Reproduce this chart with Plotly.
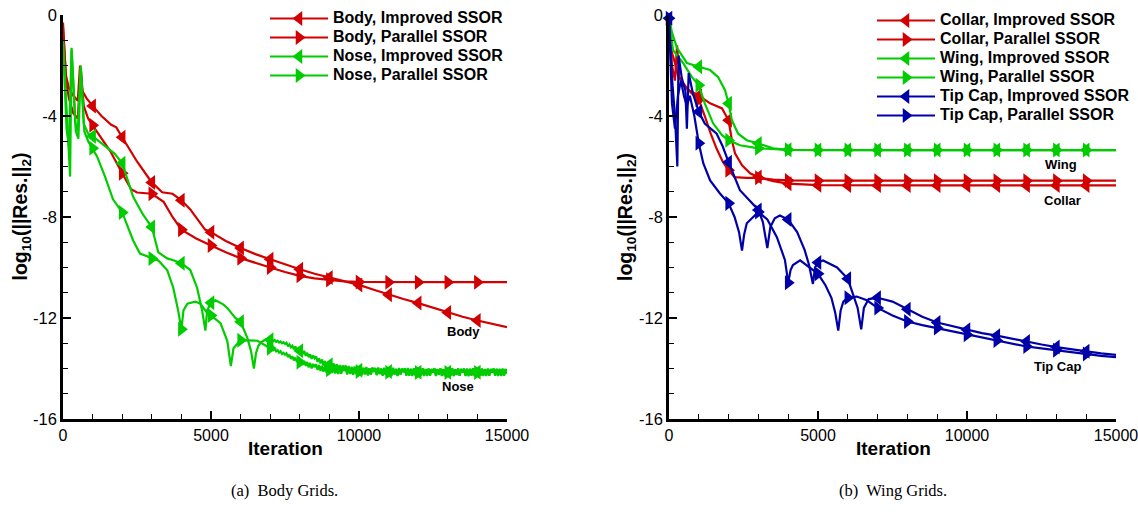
import plotly.graph_objects as go

W, H = 1138, 514

# ---------------- Data ----------------
# Left panel: Body grids
body_imp_x = [0, 100, 200, 350, 500, 575, 650, 800, 1000, 1300, 1630, 1800, 2000, 2500, 3000,
              3350, 3700, 4000, 4300, 4530, 4800, 5000, 5500, 6000, 6500, 7000, 7500, 8000,
              8500, 9000, 9500, 10000, 10500, 11000, 11500, 12000, 12500, 13000, 13500,
              14000, 14500, 15000]
body_imp_y = [-0.5, -2.4, -2.9, -3.2, -3.4, -2.0, -3.0, -3.3, -3.6, -4.0, -4.35, -4.45, -4.84,
              -5.8, -6.63, -7.02, -7.08, -7.34, -7.7, -8.06, -8.5, -8.6, -8.95, -9.23, -9.47,
              -9.67, -9.88, -10.07, -10.25, -10.4, -10.55, -10.69, -10.88, -11.08, -11.25,
              -11.41, -11.6, -11.78, -11.95, -12.1, -12.23, -12.36]

body_par_x = [0, 100, 200, 350, 500, 600, 700, 850, 1000, 1300, 1600, 2000, 2300, 2500, 3000,
              3400, 3700, 4000, 4500, 5000, 5500, 6000, 6500, 7000, 7500, 8000, 8500, 9000,
              9500, 10000, 11000, 12000, 13000, 14000, 15000]
body_par_y = [-0.3, -2.6, -3.3, -3.9, -4.1, -2.1, -3.6, -4.1, -4.37, -4.9, -5.4, -6.27, -6.9,
              -7.03, -7.08, -7.4, -8.0, -8.5, -8.85, -9.13, -9.4, -9.63, -9.83, -10.0, -10.18,
              -10.33, -10.43, -10.49, -10.55, -10.57, -10.58, -10.58, -10.58, -10.58, -10.58]

# Nose: smooth part up to 7000, then the noisy tail sampled every 50 iterations
nose_imp_x = [0, 100, 240, 290, 420, 500, 600, 700, 850, 1000, 1180, 1500, 1750, 2000, 2370,
              2700, 3000, 3220, 3520, 3750, 4000, 4300, 4530, 4700, 4810, 4870, 5000, 5150,
              5400, 5550, 5820, 6000, 6230, 6350, 6450, 6520, 6600, 6700, 6850, 7000] \
    + list(range(7050, 15001, 50))
nose_imp_y = [-1.0, -3.5, -6.4, -1.3, -4.3, -4.6, -2.0, -4.3, -4.7, -4.8, -4.96, -5.25, -5.5,
              -5.87, -7.2, -7.9, -8.4, -9.4, -9.64, -9.72, -9.83, -10.1, -10.8, -11.7, -12.5,
              -11.7, -11.4, -11.3, -11.45, -11.6, -12.0, -12.15, -12.8, -13.3, -14.0, -13.4,
              -13.1, -12.95, -12.85, -12.86,
              -12.85, -12.91, -12.87, -12.95, -12.9, -12.97, -12.93, -13.0, -12.96, -13.03,
              -12.98, -13.12, -13.04, -13.16, -13.1, -13.24, -13.13, -13.27, -13.2, -13.3,
              -13.25, -13.43, -13.3, -13.5, -13.38, -13.55, -13.44, -13.62, -13.48, -13.6,
              -13.52, -13.74, -13.6, -13.8, -13.64, -13.88, -13.7, -13.93, -13.75, -13.85,
              -13.74, -13.98, -13.8, -14.02, -13.83, -14.06, -13.86, -14.1, -13.88, -14.0,
              -13.88, -14.14, -13.9, -14.18, -13.93, -14.2, -13.92, -14.17, -13.95, -14.07,
              -13.95, -14.22, -13.97, -14.19, -13.94, -14.24, -13.99, -14.2, -13.96, -14.1,
              -13.98, -14.25, -13.96, -14.21, -14.0, -14.26, -13.97, -14.23, -13.99, -14.12,
              -13.99, -14.27, -13.97, -14.22, -14.01, -14.28, -13.98, -14.24, -14.0, -14.13,
              -14.0, -14.26, -13.98, -14.29, -14.02, -14.23, -13.99, -14.27, -14.01, -14.15,
              -14.01, -14.28, -13.99, -14.25, -14.03, -14.3, -14.0, -14.26, -14.02, -14.15,
              -13.99, -14.29, -14.02, -14.24, -14.0, -14.3, -14.03, -14.27, -14.01, -14.15,
              -14.02, -14.28, -13.99, -14.3, -14.03, -14.25, -14.0, -14.29, -14.02, -14.15,
              -14.0, -14.3, -14.03, -14.26, -14.01, -14.29, -13.99, -14.27, -14.02, -14.15,
              -14.03, -14.28, -14.0, -14.3, -14.02, -14.25, -14.01, -14.29, -14.03, -14.15,
              -14.0, -14.29, -14.02, -14.26, -14.01, -14.3, -14.03, -14.27, -14.02, -14.18]

nose_par_x = [0, 120, 200, 290, 430, 520, 600, 720, 850, 1000, 1150, 1420, 1690, 2000, 2370,
              2600, 3000, 3220, 3520, 3725, 3890, 4000, 4070, 4200, 4470, 4640, 4870, 5000,
              5320, 5550, 5670, 5760, 6000, 6570, 7000] \
    + list(range(7050, 15001, 50))
nose_par_y = [-1.1, -4.5, -5.2, -1.4, -4.6, -4.9, -2.1, -4.6, -5.0, -5.28, -5.6, -6.4, -7.3,
              -7.82, -8.93, -9.45, -9.64, -9.72, -10.1, -10.8, -11.7, -12.45, -11.7, -11.43,
              -11.35, -11.43, -11.8, -11.9, -12.2, -12.9, -13.9, -13.2, -12.88, -12.9, -13.2,
              -13.19, -13.27, -13.22, -13.32, -13.27, -13.37, -13.32, -13.43, -13.38, -13.45,
              -13.4, -13.55, -13.45, -13.62, -13.52, -13.68, -13.57, -13.74, -13.64, -13.75,
              -13.66, -13.86, -13.7, -13.9, -13.74, -13.96, -13.78, -14.0, -13.82, -13.95,
              -13.83, -14.06, -13.86, -14.1, -13.89, -14.13, -13.9, -14.16, -13.92, -14.05,
              -13.93, -14.18, -13.94, -14.2, -13.96, -14.22, -13.95, -14.21, -13.97, -14.1,
              -13.97, -14.24, -13.98, -14.22, -14.0, -14.25, -13.97, -14.23, -13.99, -14.12,
              -14.0, -14.26, -13.98, -14.24, -14.01, -14.28, -13.99, -14.25, -14.02, -14.14,
              -13.99, -14.27, -14.01, -14.23, -14.0, -14.29, -14.02, -14.26, -14.0, -14.15,
              -14.02, -14.28, -13.99, -14.25, -14.03, -14.3, -14.01, -14.24, -14.02, -14.15,
              -14.0, -14.29, -14.02, -14.26, -14.01, -14.3, -14.03, -14.27, -14.0, -14.16,
              -14.03, -14.27, -14.0, -14.3, -14.02, -14.26, -14.01, -14.29, -14.03, -14.16,
              -14.01, -14.3, -14.03, -14.25, -14.0, -14.28, -14.02, -14.31, -14.01, -14.16,
              -14.02, -14.27, -14.01, -14.3, -14.03, -14.26, -14.0, -14.29, -14.02, -14.16,
              -14.03, -14.28, -14.0, -14.31, -14.02, -14.25, -14.01, -14.3, -14.03, -14.16,
              -14.0, -14.29, -14.02, -14.26, -14.03, -14.3, -14.01, -14.28, -14.02, -14.16,
              -14.02, -14.27, -14.01, -14.3, -14.03, -14.28, -14.0, -14.29, -14.02, -14.2]

# Right panel: Wing grids
collar_imp_x = [0, 100, 200, 270, 350, 500, 700, 1000, 1380, 1780, 2000, 2110, 2215, 2450, 2720,
                3000, 3500, 4000, 5000, 6000, 7000, 8000, 9000, 10000, 11000, 12000, 13000,
                14000, 15000]
collar_imp_y = [-0.1, -2.0, -2.6, -1.2, -2.5, -2.8, -3.0, -3.2, -3.5, -3.7, -4.17, -4.96, -5.48,
                -5.95, -6.27, -6.42, -6.58, -6.68, -6.74, -6.75, -6.75, -6.75, -6.75, -6.75,
                -6.75, -6.75, -6.75, -6.75, -6.75]

collar_par_x = [0, 100, 200, 300, 450, 600, 800, 1000, 1200, 1400, 1600, 1800, 2000, 2200, 2600,
                3000, 3500, 4000, 5000, 6000, 7000, 8000, 9000, 10000, 11000, 12000, 13000,
                14000, 15000]
collar_par_y = [-0.1, -1.5, -1.9, -2.4, -2.65, -2.9, -3.15, -3.35, -4.0, -4.7, -5.3, -5.8, -6.15,
                -6.42, -6.45, -6.45, -6.52, -6.55, -6.56, -6.56, -6.56, -6.56, -6.56, -6.56,
                -6.56, -6.56, -6.56, -6.56, -6.56]

wing_imp_x = [0, 100, 270, 600, 1000, 1380, 1650, 1880, 2000, 2110, 2320, 2610, 3000, 3490, 4000,
              5000, 6000, 7000, 8000, 9000, 10000, 11000, 12000, 13000, 14000, 15000]
wing_imp_y = [-0.07, -0.7, -1.31, -1.9, -2.05, -2.18, -2.46, -2.98, -3.5, -4.17, -4.7, -4.96,
              -5.09, -5.28, -5.34, -5.35, -5.35, -5.35, -5.35, -5.35, -5.35, -5.35, -5.35, -5.35,
              -5.35, -5.35]

wing_par_x = [0, 135, 470, 770, 1000, 1200, 1480, 1780, 2000, 2380, 3000, 4000, 5000, 6000, 7000,
              8000, 9000, 10000, 11000, 12000, 13000, 14000, 15000]
wing_par_y = [-0.07, -1.39, -1.9, -2.46, -2.78, -3.5, -4.29, -4.76, -4.96, -5.16, -5.28, -5.34,
              -5.35, -5.35, -5.35, -5.35, -5.35, -5.35, -5.35, -5.35, -5.35, -5.35, -5.35]

tip_imp_x = [0, 100, 200, 280, 320, 430, 550, 600, 660, 800, 1000, 1200, 1400, 1600, 1800, 2000,
             2380, 2700, 3000, 3150, 3300, 3400, 3550, 3720, 4000, 4300, 4550, 4700, 4830, 4900,
             5000, 5170, 5400, 5640, 6000, 6180, 6330, 6450, 6540, 6700, 7000, 7500, 8000, 8500,
             9000, 9500, 10000, 10500, 11000, 11500, 12000, 12500, 13000, 13500, 14000, 14500,
             15000]
tip_imp_y = [-0.13, -2.5, -4.0, -6.0, -1.6, -2.5, -3.0, -4.5, -2.3, -3.1, -3.83, -4.3, -4.5, -4.7,
             -5.2, -5.83, -6.94, -7.35, -7.72, -8.2, -9.23, -8.4, -8.05, -7.94, -8.1, -8.6, -9.3,
             -9.9, -10.65, -10.0, -9.8, -9.72, -9.85, -10.0, -10.45, -11.05, -11.6, -12.45,
             -11.6, -11.25, -11.2, -11.35, -11.65, -11.95, -12.18, -12.33, -12.47, -12.6, -12.7,
             -12.82, -12.93, -13.05, -13.15, -13.24, -13.32, -13.4, -13.46]

tip_par_x = [0, 100, 200, 300, 400, 500, 600, 700, 850, 1000, 1150, 1380, 1710, 2000, 2200, 2350,
             2450, 2520, 2610, 2820, 3000, 3300, 3620, 3890, 4000, 4080, 4160, 4400, 4730, 5000,
             5250, 5450, 5580, 5680, 5760, 5850, 6000, 6300, 6640, 7000, 7500, 8000, 8500, 9000,
             9500, 10000, 10500, 11000, 11500, 12000, 12500, 13000, 13500, 14000, 14500, 15000]
tip_par_y = [-0.13, -3.5, -4.5, -3.2, -2.6, -3.2, -3.6, -3.2, -4.0, -5.08, -5.87, -6.55, -7.07,
             -7.46, -8.0, -8.6, -9.33, -8.7, -8.25, -8.0, -7.8, -8.1, -8.8, -9.7, -10.6, -10.1,
             -9.9, -9.72, -10.0, -10.25, -10.7, -11.2, -11.8, -12.5, -11.7, -11.35, -11.2,
             -11.15, -11.3, -11.6, -11.9, -12.14, -12.28, -12.4, -12.53, -12.66, -12.78, -12.89,
             -13.0, -13.13, -13.2, -13.28, -13.36, -13.43, -13.5, -13.55]

# Axis ticks
x_tick_vals = [0, 5000, 10000, 15000]
x_tick_text = ["0", "5000", "10000", "15000"]
y_tick_vals = [-16, -12, -8, -4, 0]
y_tick_text = ["-16", "-12", "-8", "-4", "0"]

# Curve labels
left_labels = ["Body", "Nose"]
left_label_x = [13540, 13340]
left_label_y = [-12.55, -14.72]
right_labels = ["Wing", "Collar", "Tip Cap"]
right_label_x = [13170, 13190, 13020]
right_label_y = [-5.94, -7.35, -13.92]

captions = ["(a)  Body Grids.", "(b)  Wing Grids."]
x_title = "Iteration"
y_title = "log<sub>10</sub>(||Res.||<sub>2</sub>)"

# ---------------- Styling ----------------
RED = "#d20000"
GREEN = "#00cc00"
BLUE = "#0000a8"
SANS = "Liberation Sans, Arial, Helvetica, sans-serif"
NARROW = "Liberation Sans Narrow, Arial Narrow, Liberation Sans, sans-serif"
SERIF = "Liberation Serif, Times New Roman, serif"
MSIZE = 13
LW = 2.2


def marker_idx(xs, include_zero=False):
    return [i for i, x in enumerate(xs)
            if (x % 1000 == 0) and (1000 <= x <= 14000 or (include_zero and x == 0))]


def legend_name(s):
    return '<span style="font-size:16px">%s</span>' % s


fig = go.Figure()

series_left = [
    ("Body, Improved SSOR", body_imp_x, body_imp_y, RED, "triangle-left"),
    ("Body, Parallel SSOR", body_par_x, body_par_y, RED, "triangle-right"),
    ("Nose, Improved SSOR", nose_imp_x, nose_imp_y, GREEN, "triangle-left"),
    ("Nose, Parallel SSOR", nose_par_x, nose_par_y, GREEN, "triangle-right"),
]
series_right = [
    ("Collar, Improved SSOR", collar_imp_x, collar_imp_y, RED, "triangle-left", False),
    ("Collar, Parallel SSOR", collar_par_x, collar_par_y, RED, "triangle-right", False),
    ("Wing, Improved SSOR", wing_imp_x, wing_imp_y, GREEN, "triangle-left", False),
    ("Wing, Parallel SSOR", wing_par_x, wing_par_y, GREEN, "triangle-right", False),
    ("Tip Cap, Improved SSOR", tip_imp_x, tip_imp_y, BLUE, "triangle-left", True),
    ("Tip Cap, Parallel SSOR", tip_par_x, tip_par_y, BLUE, "triangle-right", True),
]

for name, xs, ys, col, sym in series_left:
    fig.add_trace(go.Scatter(
        x=xs, y=ys, name=legend_name(name), mode="lines+markers", xaxis="x", yaxis="y",
        legend="legend",
        line=dict(color=col, width=LW),
        marker=dict(symbol=sym, size=MSIZE, color=col),
        selectedpoints=marker_idx(xs),
        selected=dict(marker=dict(opacity=1)),
        unselected=dict(marker=dict(opacity=0)),
    ))

for name, xs, ys, col, sym, z in series_right:
    fig.add_trace(go.Scatter(
        x=xs, y=ys, name=legend_name(name), mode="lines+markers", xaxis="x2", yaxis="y2",
        legend="legend2", cliponaxis=False,
        line=dict(color=col, width=LW),
        marker=dict(symbol=sym, size=MSIZE, color=col),
        selectedpoints=marker_idx(xs, z),
        selected=dict(marker=dict(opacity=1)),
        unselected=dict(marker=dict(opacity=0)),
    ))

ydom = [1 - 419 / H, 1 - 15 / H]


def xaxis_cfg(dom, anchor):
    return dict(
        domain=dom, range=[0, 15000], anchor=anchor, automargin=False,
        showline=True, linecolor="black", linewidth=2.5, mirror=False,
        showgrid=False, zeroline=False,
        ticks="inside", ticklen=8, tickwidth=1.5, tickcolor="black",
        tickmode="array", tickvals=x_tick_vals, ticktext=x_tick_text,
        ticklabeloverflow="allow",
        tickfont=dict(family=NARROW, size=16, color="black"),
        minor=dict(tickmode="linear", tick0=0, dtick=1000, ticks="inside", ticklen=5,
                   tickwidth=1.2, tickcolor="black", showgrid=False),
    )


def yaxis_cfg(anchor):
    return dict(
        domain=ydom, range=[-16, 0], anchor=anchor, automargin=False,
        showline=True, linecolor="black", linewidth=2.5, mirror=False,
        showgrid=False, zeroline=False,
        ticks="inside", ticklen=8, tickwidth=1.5, tickcolor="black",
        tickmode="array", tickvals=y_tick_vals, ticktext=y_tick_text,
        ticklabeloverflow="allow",
        tickfont=dict(family=NARROW, size=16.5, color="black"),
        minor=dict(tickmode="linear", tick0=0, dtick=1, ticks="inside", ticklen=5,
                   tickwidth=1.2, tickcolor="black", showgrid=False),
    )


annotations = []
for t, x, y in zip(left_labels, left_label_x, left_label_y):
    annotations.append(dict(text="<b>%s</b>" % t, x=x, y=y, xref="x", yref="y",
                            showarrow=False, font=dict(family=SANS, size=13, color="black")))
for t, x, y in zip(right_labels, right_label_x, right_label_y):
    annotations.append(dict(text="<b>%s</b>" % t, x=x, y=y, xref="x2", yref="y2",
                            showarrow=False, font=dict(family=SANS, size=13, color="black")))
for t, cx in zip(captions, [284 / W, 893 / W]):
    annotations.append(dict(text=t, x=cx, y=1 - 490 / H, xref="paper", yref="paper",
                            xanchor="center", yanchor="middle",
                            showarrow=False, font=dict(family=SERIF, size=16.5, color="black")))
# axis titles
for cx in [285.5 / W, 893 / W]:
    annotations.append(dict(text="<b>%s</b>" % x_title, x=cx, y=1 - 448 / H,
                            xref="paper", yref="paper", xanchor="center", yanchor="middle",
                            showarrow=False, font=dict(family=SANS, size=19, color="black")))
for cx in [20.5 / W, 626 / W]:
    annotations.append(dict(text="<b>%s</b>" % y_title, x=cx, y=1 - 217 / H, textangle=-90,
                            xref="paper", yref="paper", xanchor="center", yanchor="middle",
                            showarrow=False, font=dict(family=SANS, size=19.5, color="black")))

legend_style = dict(
    bgcolor="rgba(0,0,0,0)", borderwidth=0, itemwidth=58,
    xanchor="left", yanchor="top", traceorder="normal",
    font=dict(family=SANS, size=12, color="black", weight="bold"),
)

fig.update_layout(
    width=W, height=H,
    margin=dict(l=0, r=0, t=0, b=0),
    paper_bgcolor="white", plot_bgcolor="white",
    xaxis=xaxis_cfg([63 / W, 507 / W], "y"),
    yaxis=yaxis_cfg("x"),
    xaxis2=xaxis_cfg([669 / W, 1116 / W], "y2"),
    yaxis2=yaxis_cfg("x2"),
    legend=dict(x=265 / W, y=1 - 4 / H, **legend_style),
    legend2=dict(x=872 / W, y=1 - 6 / H, **legend_style),
    annotations=annotations,
    showlegend=True,
)

fig.write_html("out.html")
